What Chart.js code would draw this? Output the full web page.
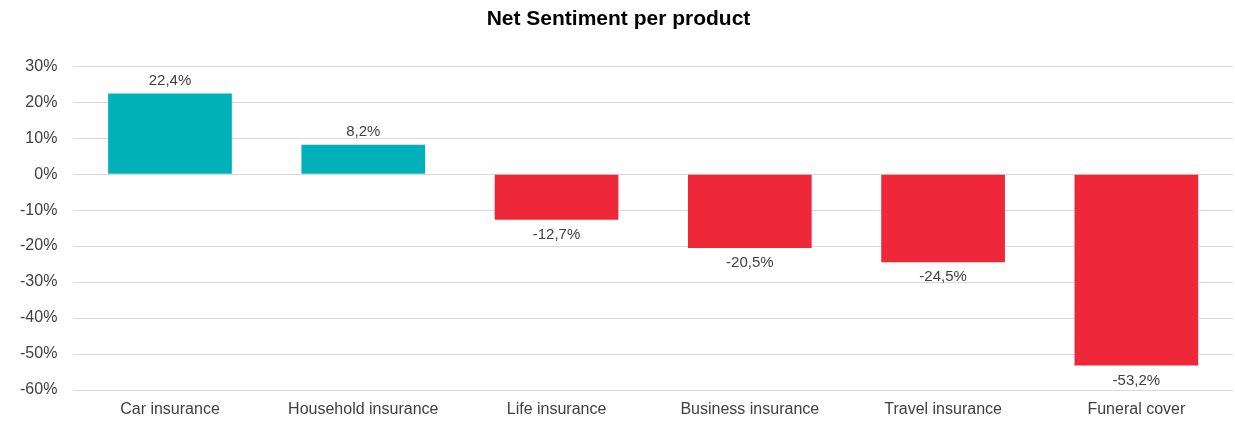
<!DOCTYPE html>
<html>
<head>
<meta charset="utf-8">
<script src="https://cdn.jsdelivr.net/npm/chart.js@4"></script>
<style>
  html, body { margin: 0; padding: 0; background: #fff; }
  #wrap { width: 1235px; height: 421px; }
</style>
</head>
<body>
<div id="wrap"><canvas id="myChart" width="1235" height="421"></canvas></div>
<script>
const products = ['Car insurance', 'Household insurance', 'Life insurance', 'Business insurance', 'Travel insurance', 'Funeral cover'];
const sentiment = [22.4, 8.2, -12.7, -20.5, -24.5, -53.2];
const yMin = -60;
const yMax = 30;

const TEAL = '#00b1ba';
const RED = '#ee2839';
const FONT = '"Liberation Sans", Arial, sans-serif';

// writes "22,4%" style labels above positive bars and under negative ones
const valueLabels = {
  id: 'valueLabels',
  afterDatasetsDraw(chart) {
    const ctx = chart.ctx;
    const meta = chart.getDatasetMeta(0);
    ctx.save();
    ctx.font = '15px ' + FONT;
    ctx.fillStyle = '#404040';
    ctx.textAlign = 'center';
    ctx.textBaseline = 'middle';
    meta.data.forEach((bar, i) => {
      const v = sentiment[i];
      const txt = v.toFixed(1).replace('.', ',') + '%';
      const y = v >= 0 ? bar.y - 13 : bar.y + 15;
      ctx.fillText(txt, bar.x, y);
    });
    ctx.restore();
  }
};

new Chart(document.getElementById('myChart').getContext('2d'), {
  type: 'bar',
  data: {
    labels: products,
    datasets: [{
      data: sentiment,
      backgroundColor: sentiment.map(v => v >= 0 ? TEAL : RED),
      borderWidth: 0,
      barPercentage: 0.8,
      categoryPercentage: 0.8
    }]
  },
  options: {
    responsive: false,
    animation: false,
    layout: { padding: { top: 7, right: 2, left: 4, bottom: 0 } },
    plugins: {
      legend: { display: false },
      tooltip: { enabled: false },
      title: {
        display: true,
        text: 'Net Sentiment per product',
        color: '#000',
        font: { family: FONT, size: 21, weight: 'bold' },
        padding: { top: 0, bottom: 34 }
      }
    },
    scales: {
      x: {
        grid: { display: false, drawTicks: false },
        border: { display: false },
        afterFit: scale => { scale.height = 31; },
        ticks: {
          color: '#404040',
          padding: 10,
          font: { family: FONT, size: 16 }
        }
      },
      y: {
        min: yMin,
        max: yMax,
        grid: { color: '#d9d9d9', lineWidth: 1, drawTicks: false },
        border: { display: false },
        ticks: {
          stepSize: 10,
          color: '#404040',
          padding: 16,
          font: { family: FONT, size: 16 },
          callback: v => v + '%'
        }
      }
    }
  },
  plugins: [valueLabels]
});
</script>
</body>
</html>
